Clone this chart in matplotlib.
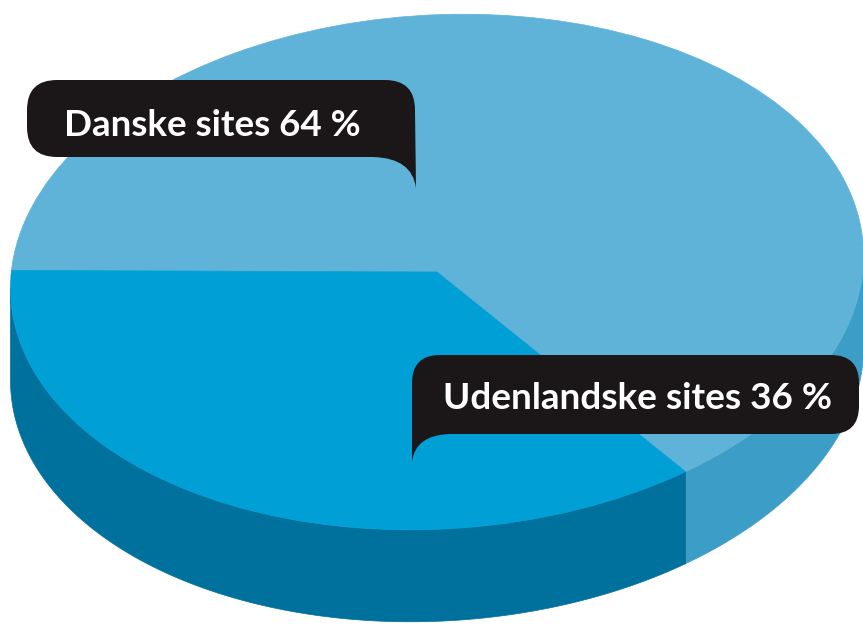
import numpy as np
import matplotlib
matplotlib.use("Agg")
import matplotlib.pyplot as plt
from matplotlib.patches import Wedge, Polygon, PathPatch
from matplotlib.path import Path
from matplotlib.transforms import Affine2D

# data
labels = ["Danske sites", "Udenlandske sites"]
shares = [64, 36]

# colours (top face, side wall)
top_colors = ["#5fb3d9", "#009fd6"]
side_colors = ["#3c9dc6", "#00709c"]
bubble_color = "#1b1718"

# pie geometry in pixel units (y goes down)
cx, cy = 437, 272
a, b = 427, 257
tilt = -3.4
depth = 92
start = 186.0

W, H = 863, 626
fig = plt.figure(figsize=(W / 100, H / 100), dpi=100, facecolor="white")
ax = fig.add_axes([0, 0, 1, 1])
ax.set_xlim(0, W)
ax.set_ylim(H, 0)
ax.axis("off")

proj = Affine2D().scale(a, b).rotate_deg(tilt).translate(cx, cy)


def ell(t_deg, dy=0.0):
    t = np.radians(t_deg)
    pts = proj.transform(np.column_stack([np.cos(t), np.sin(t)]))
    pts[:, 1] += dy
    return pts


# front half of the side wall is visible between these angles
phi = np.radians(tilt)
vis0 = np.degrees(np.arctan2(-b * np.sin(phi), a * np.cos(phi)))
visible = [(vis0, vis0 + 180), (vis0 + 360, vis0 + 540)]

angles = start + np.concatenate([[0], np.cumsum(shares)]) * 360.0 / sum(shares)

# side walls
for i in range(len(shares)):
    t1, t2 = angles[i], angles[i + 1]
    for v1, v2 in visible:
        lo, hi = max(t1, v1), min(t2, v2)
        if hi <= lo:
            continue
        ts = np.linspace(lo, hi, 200)
        upper = ell(ts)
        lower = ell(ts[::-1], depth)
        ax.add_patch(Polygon(np.vstack([upper, lower]), closed=True,
                             facecolor=side_colors[i], edgecolor=side_colors[i],
                             lw=0.5))

# top faces
for i in range(len(shares)):
    ax.add_patch(Wedge((0, 0), 1, angles[i], angles[i + 1],
                       facecolor=top_colors[i], edgecolor=top_colors[i], lw=0.5,
                       transform=proj + ax.transData))


def bubble(x0, x1, y0, y1, tip, r, tail_left):
    # rounded box with a tail hanging from one lower corner
    M, L, C = Path.MOVETO, Path.LINETO, Path.CURVE3
    if not tail_left:
        verts = [(x0 + r, y0), (x1 - r, y0), (x1, y0), (x1, y0 + r),
                 tip, (x1 - 3, y1 + 1), (x1 - 42, y1),
                 (x0 + r, y1), (x0, y1), (x0, y1 - r),
                 (x0, y0 + r), (x0, y0), (x0 + r, y0)]
    else:
        verts = [(x0 + r, y0), (x1 - r, y0), (x1, y0), (x1, y0 + r),
                 (x1, y1 - r), (x1, y1), (x1 - r, y1),
                 (x0 + 38, y1), (x0 + 3, y1 + 1), tip,
                 (x0, y0 + r), (x0, y0), (x0 + r, y0)]
    codes = [M, L, C, C, L, C, C, L, C, C, L, C, C]
    ax.add_patch(PathPatch(Path(verts, codes), facecolor=bubble_color,
                           edgecolor="none"))


bubble(27, 415, 80, 157, (416, 188), 30, False)
bubble(412, 859, 355, 434, (412, 462), 28, True)

# labels, fitted to the widths of the original lettering
texts = [f"{lab} {val} %" for lab, val in zip(labels, shares)]
pos = [(64, 136, 298), (443, 409, 390)]
renderer = fig.canvas.get_renderer()
for txt, (x, y, w) in zip(texts, pos):
    t = ax.text(x, y, txt, color="white", fontsize=24, fontweight="bold",
                family=["Lato", "Open Sans", "DejaVu Sans"],
                ha="left", va="baseline")
    ext = t.get_window_extent(renderer)
    t.set_fontsize(24 * w / ext.width)

fig.savefig("out.png", dpi=100, facecolor="white")
